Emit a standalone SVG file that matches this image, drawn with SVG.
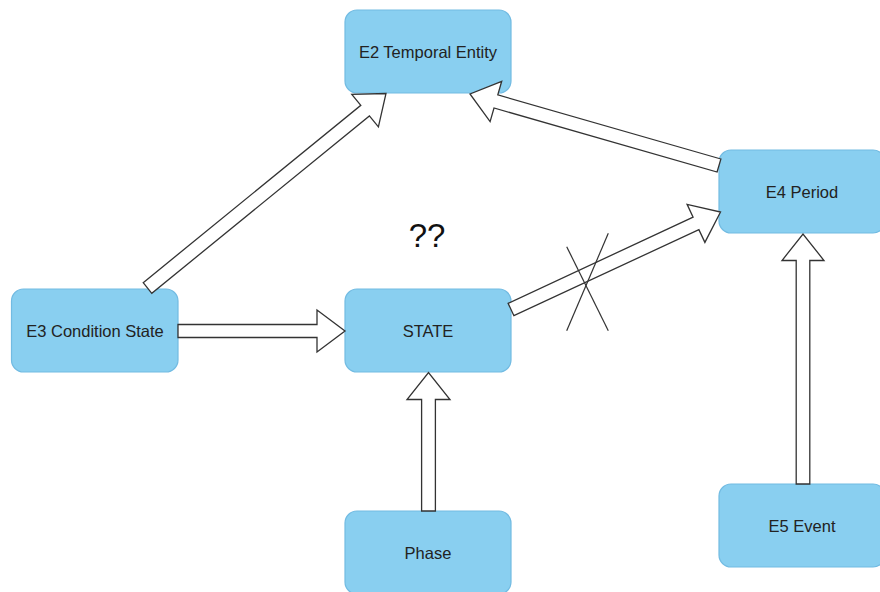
<svg xmlns="http://www.w3.org/2000/svg" width="880" height="592" viewBox="0 0 880 592">
<style>
.node rect{fill:#89CFF0;stroke:#72BBE2;stroke-width:1.2}
.node text{font-family:"Liberation Sans",Arial,Helvetica,sans-serif;font-size:16.5px;fill:#222;text-anchor:middle}
.arrow{fill:#fff;stroke:#333;stroke-width:1.3;stroke-linejoin:miter}
.cross{stroke:#333;stroke-width:1.2;fill:none}
.note{font-family:"Liberation Sans",Arial,Helvetica,sans-serif;font-size:33px;fill:#111;text-anchor:middle}
</style>
<rect width="880" height="592" fill="#fff"/>
<g id="nodes">
<g id="E2" class="node"><rect x="345" y="10" width="166" height="83" rx="12"/><text x="428" y="58">E2 Temporal Entity</text></g>
<g id="E3" class="node"><rect x="11.5" y="289" width="166.5" height="83" rx="12"/><text x="95" y="337">E3 Condition State</text></g>
<g id="STATE" class="node"><rect x="345" y="289" width="166" height="83" rx="12"/><text x="428" y="337">STATE</text></g>
<g id="E4" class="node"><rect x="719" y="150" width="166" height="83" rx="12"/><text x="802" y="198">E4 Period</text></g>
<g id="E5" class="node"><rect x="719" y="484" width="166" height="83" rx="12"/><text x="802" y="532">E5 Event</text></g>
<g id="Phase" class="node"><rect x="345" y="511" width="166" height="83" rx="12"/><text x="428" y="559">Phase</text></g>
</g>
<g id="connectors">
<polygon id="e3-state" class="arrow" points="178,324.5 317,324.5 317,310 345,331 317,352 317,337.5 178,337.5"/>
<polygon id="phase-state" class="arrow" points="421.6,511 421.6,399.5 407,399.5 428.5,372.5 450,399.5 435.4,399.5 435.4,511"/>
<polygon id="e5-e4" class="arrow" points="796.2,484 796.2,260.5 782,260.5 803,234 824,260.5 809.8,260.5 809.8,484"/>
<polygon id="e3-e2" class="arrow" points="143.2,282.7 360.8,105.3 351.8,94.3 386,93.5 378.4,126.9 369.4,115.9 151.8,293.3"/>
<polygon id="e4-e2" class="arrow" points="720.9,159 497.8,94.9 501.7,81.3 470,94 490.1,121.6 494,108 717.1,172"/>
<polygon id="state-e4" class="arrow" points="508.1,303.3 693.1,217.2 687.1,204.4 720.5,212 704.9,242.4 698.9,229.6 513.9,315.7"/>
<g id="cross"><line class="cross" x1="566.7" y1="246.7" x2="608.3" y2="330.7"/><line class="cross" x1="608.3" y1="233.3" x2="566.7" y2="330.7"/></g>
</g>
<text class="note" x="427" y="247">??</text>
</svg>
